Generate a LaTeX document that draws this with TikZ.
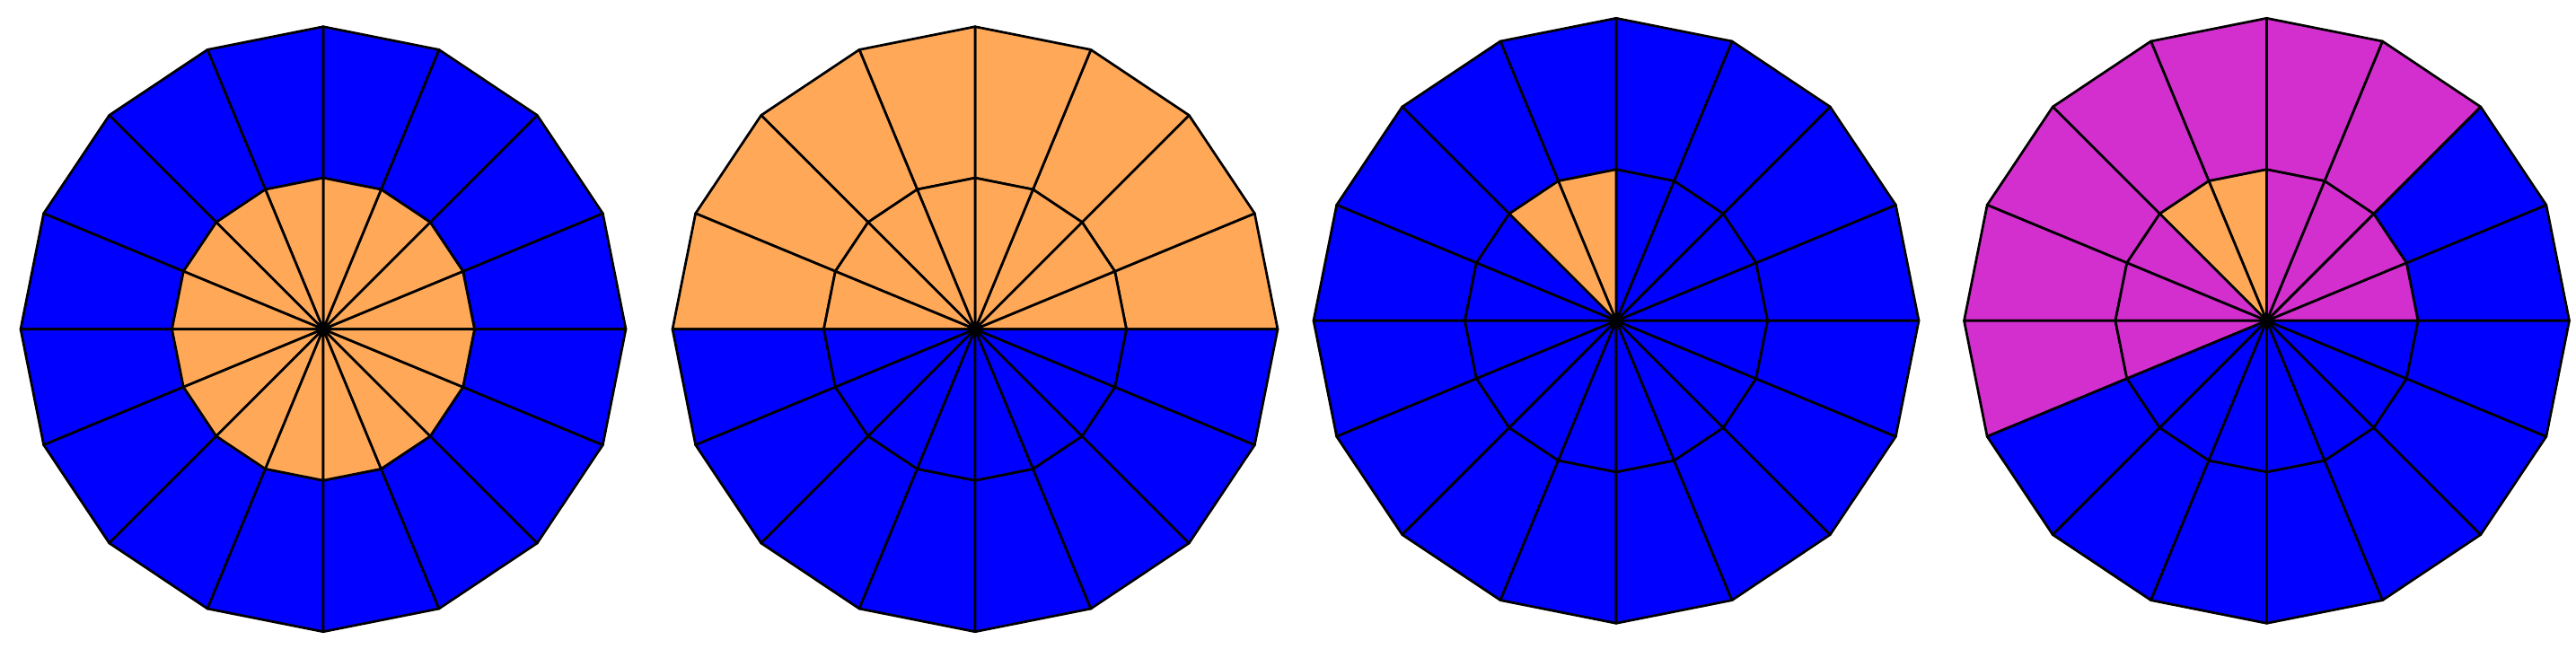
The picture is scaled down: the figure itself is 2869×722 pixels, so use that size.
\documentclass[tikz,border=0pt]{standalone}
\definecolor{cB}{RGB}{0,0,255}
\definecolor{cO}{RGB}{255,168,88}
\definecolor{cM}{RGB}{211,47,206}
\tikzset{cell/.style={draw=black, line width=0.68pt, line join=round}}
\newcommand\wheelfig[3]{%
\begin{scope}[shift={(#1,#2)}]
\foreach \k/\ci/\co in {#3} {
  \pgfmathsetmacro\aa{22.5*\k}
  \pgfmathsetmacro\bb{22.5*(\k+1)}
  \filldraw[cell,fill=\co] (\aa:168.5) -- (\aa:337) -- (\bb:337) -- (\bb:168.5) -- cycle;
  \filldraw[cell,fill=\ci] (0,0) -- (\aa:168.5) -- (\bb:168.5) -- cycle;
}
\end{scope}}
\begin{document}
\begin{tikzpicture}[x=0.25pt,y=0.25pt]
\useasboundingbox (0,0) rectangle (2869,722);
\wheelfig{360}{355.3}{0/cO/cB,1/cO/cB,2/cO/cB,3/cO/cB,4/cO/cB,5/cO/cB,6/cO/cB,7/cO/cB,8/cO/cB,9/cO/cB,10/cO/cB,11/cO/cB,12/cO/cB,13/cO/cB,14/cO/cB,15/cO/cB}
\wheelfig{1086}{355.3}{0/cO/cO,1/cO/cO,2/cO/cO,3/cO/cO,4/cO/cO,5/cO/cO,6/cO/cO,7/cO/cO,8/cB/cB,9/cB/cB,10/cB/cB,11/cB/cB,12/cB/cB,13/cB/cB,14/cB/cB,15/cB/cB}
\wheelfig{1800}{364.7}{0/cB/cB,1/cB/cB,2/cB/cB,3/cB/cB,4/cO/cB,5/cO/cB,6/cB/cB,7/cB/cB,8/cB/cB,9/cB/cB,10/cB/cB,11/cB/cB,12/cB/cB,13/cB/cB,14/cB/cB,15/cB/cB}
\wheelfig{2524.5}{364.7}{0/cM/cB,1/cM/cB,2/cM/cM,3/cM/cM,4/cO/cM,5/cO/cM,6/cM/cM,7/cM/cM,8/cM/cM,9/cB/cB,10/cB/cB,11/cB/cB,12/cB/cB,13/cB/cB,14/cB/cB,15/cB/cB}
\end{tikzpicture}
\end{document}
